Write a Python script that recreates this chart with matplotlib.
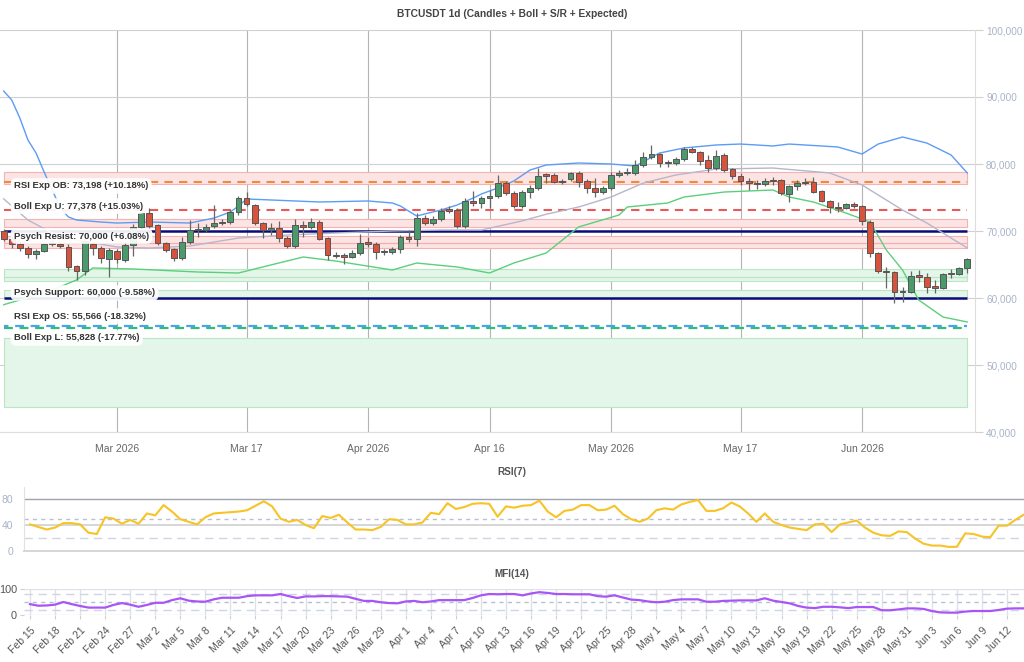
import matplotlib
matplotlib.use("Agg")
import matplotlib.pyplot as plt
import matplotlib.dates as mdates
from matplotlib.ticker import FuncFormatter
from matplotlib.transforms import blended_transform_factory
import numpy as np
import pandas as pd

plt.rcParams['font.family'] = ['Liberation Sans', 'DejaVu Sans']

# daily candles
dates = pd.date_range('2026-02-15', periods=120, freq='D')
opens = [69950, 68810, 68100, 67450, 66570, 67060, 68060, 68100, 67660, 64780,
         64070, 68000, 67460, 65820, 67060, 65670, 67900, 70600, 72700, 70900,
         68200, 67310, 65970, 68360, 70150, 70150, 70700, 71200, 71350, 72840,
         74930, 73880, 71190, 70150, 70450, 68950, 67760, 70900, 70600, 71340,
         68950, 66420, 66400, 66120, 66720, 68360, 68060, 66870, 66870, 67310,
         69100, 68800, 71940, 71190, 71790, 73280, 73130, 70750, 74480, 74180,
         74930, 75220, 77160, 75670, 73730, 75820, 76420, 78510, 78360, 77310,
         77760, 78660, 77460, 76420, 75820, 76420, 78360, 78660, 78660, 79850,
         81040, 81490, 80300, 80150, 80750, 82240, 81790, 80600, 79400, 81340,
         79250, 78210, 77460, 77160, 77010, 77610, 77610, 75520, 76720, 77310,
         77310, 75970, 74480, 73580, 73430, 74030, 73730, 71340, 66720, 64030,
         63880, 61040, 60900, 63430, 63130, 61790, 61490, 63580, 63580, 64480]
highs = [70300, 69200, 68500, 67700, 67300, 68250, 68700, 68300, 68000, 65000,
         69000, 68400, 67700, 67400, 67300, 68300, 71000, 73000, 73430, 71100,
         68400, 67500, 69100, 71640, 71200, 71000, 73880, 71800, 73100, 75200,
         75820, 74100, 71400, 71190, 71500, 69300, 71790, 71500, 71940, 71600,
         69100, 66870, 66700, 67160, 69550, 69100, 68300, 67300, 67600, 69400,
         70150, 72690, 72390, 72200, 73430, 73730, 73400, 74930, 75970, 75200,
         76120, 78360, 77400, 75900, 76120, 76870, 79400, 78660, 78660, 77800,
         78800, 78900, 77700, 77910, 76700, 78800, 79100, 79400, 80600, 81790,
         82830, 81640, 80600, 81040, 82540, 82540, 82000, 81340, 82090, 81600,
         79400, 78650, 77900, 77600, 77900, 78060, 77760, 76900, 77610, 77900,
         78060, 76100, 74700, 74330, 74180, 74330, 73880, 71640, 66870, 64630,
         64100, 61640, 64030, 64180, 63730, 62690, 63730, 64330, 64630, 65970]
lows = [68500, 67500, 66950, 65930, 65750, 66900, 67800, 67500, 64070, 62690,
        63500, 66420, 65220, 63090, 65220, 65400, 66300, 70300, 70400, 67900,
        66870, 65520, 65700, 68000, 69100, 69800, 70500, 70900, 71100, 72400,
        73800, 70900, 68950, 69400, 68360, 67460, 67460, 69100, 70300, 68600,
        65670, 65970, 65070, 65970, 66400, 67610, 65820, 66400, 66600, 66700,
        68360, 67760, 70900, 70900, 71500, 72690, 70500, 70500, 73800, 73430,
        73430, 75000, 75370, 73500, 73500, 74930, 76100, 77160, 77160, 77000,
        77500, 76570, 75670, 75070, 75520, 76100, 78000, 78300, 78360, 79600,
        80800, 79550, 79550, 79900, 80500, 81640, 79850, 78800, 79100, 78800,
        77760, 76870, 76120, 76270, 76700, 76870, 75370, 74330, 76120, 76870,
        75670, 74300, 72690, 72840, 73300, 73500, 70900, 66120, 63800, 61490,
        59250, 59400, 60750, 62390, 60750, 60750, 61300, 62990, 63430, 63730]
closes = [68810, 68100, 67450, 66570, 67060, 68060, 68200, 67750, 64580, 64070,
          68500, 67500, 65970, 67160, 65820, 67910, 70600, 72700, 70750, 68200,
          67160, 65970, 68360, 70150, 70300, 70600, 71200, 71350, 72840, 74930,
          74030, 71190, 70150, 70450, 68950, 67760, 70900, 70600, 71340, 68800,
          66420, 66200, 66120, 66720, 68210, 68060, 66870, 67010, 67310, 69100,
          68800, 71940, 71190, 71790, 72990, 72990, 70750, 74480, 74180, 74930,
          75220, 77160, 75670, 73730, 75820, 76420, 78210, 78210, 77310, 77460,
          78660, 77310, 76420, 75820, 76420, 78360, 78660, 78800, 79850, 81040,
          81490, 80150, 80150, 80750, 82240, 81790, 80450, 79400, 81190, 79100,
          78210, 77460, 77160, 77010, 77460, 77460, 75670, 76720, 77160, 77160,
          75820, 74480, 73580, 73430, 74030, 73700, 71490, 66720, 64030, 63880,
          60900, 60900, 63280, 63130, 61640, 61490, 63580, 63730, 64480, 65820]

# Bollinger bands (day index, value)
bb_up_idx = [0, 1, 2, 3, 4, 5, 6, 7, 8, 9, 12, 14, 18, 23, 26, 28, 29, 30, 33, 39,
             45, 48, 49, 50, 51, 52, 54, 56, 58, 59, 61, 63, 65, 67, 71, 75, 78, 81, 84, 88,
             91, 95, 97, 103, 106, 108, 111, 114, 117, 119]
bb_up = [90894, 89550, 86870, 83580, 81640, 78800, 76120, 73430, 72090, 71640,
         71340, 71190, 71340, 71190, 71940, 72840, 73730, 74780, 74630, 74330,
         74480, 74180, 73730, 72980, 72240, 72540, 73130, 73880, 74930, 75520,
         76420, 77460, 79100, 79850, 80150, 80000, 79700, 81640, 82390, 82840,
         82980, 82690, 82980, 82540, 81490, 82980, 84030, 83130, 81340, 78660]
bb_mid_idx = [0, 3, 6, 9, 14, 18, 23, 29, 35, 41, 48, 54, 59, 64, 67, 71, 75, 79, 83, 88,
              95, 102, 106, 111, 114, 119]
bb_mid = [74800, 71640, 69700, 68660, 67610, 67460, 67760, 68950, 69400, 69700,
          70000, 70150, 70150, 71500, 72500, 73580, 75070, 77160, 78360, 79250,
          79400, 78660, 76870, 73130, 71190, 67460]
bb_low_idx = [0, 2, 6, 9, 11, 16, 24, 29, 33, 37, 41, 48, 51, 56, 60, 63, 67, 71, 76, 77,
              82, 84, 89, 95, 97, 100, 104, 107, 109, 111, 113, 116, 119]
bb_low = [59000, 59700, 61190, 62690, 64480, 64330, 63880, 63730, 64930, 66120,
          65520, 64180, 65220, 64630, 63730, 65220, 66720, 70600, 72390, 73580,
          74180, 75070, 75820, 76120, 75070, 74330, 72690, 71340, 67160, 64180,
          59700, 57160, 56420]

# support / resistance zones
red_zones = [(77000, 78800), (70550, 71750), (67420, 69250)]
red_zone_lines = [68160]
green_zones = [(62580, 64280), (60000, 61150), (43780, 54030)]
green_zone_lines = [63180]

psych_levels = [70000, 60000]
boll_exp_u = 77378
rsi_exp_ob = 73198
boll_exp_l = 55828
rsi_exp_os = 55566

labels = ['RSI Exp OB: 73,198 (+10.18%)', 'Boll Exp U: 77,378 (+15.03%)',
          'Psych Resist: 70,000 (+6.08%)', 'Psych Support: 60,000 (-9.58%)',
          'RSI Exp OS: 55,566 (-18.32%)', 'Boll Exp L: 55,828 (-17.77%)']
label_y = [76720, 73730, 69250, 60750, 57310, 54030]

rsi = [41, 37, 33, 36, 43, 43, 41, 28, 26, 52,
       50, 42, 48, 42, 58, 55, 71, 61, 49, 45,
       41, 52, 58, 59, 60, 61, 63, 70, 77, 69,
       50, 45, 48, 40, 35, 54, 51, 56, 44, 33,
       33, 32, 37, 49, 48, 41, 41, 44, 59, 57,
       74, 65, 68, 73, 74, 73, 53, 69, 67, 70,
       71, 78, 61, 52, 62, 64, 71, 71, 63, 64,
       70, 57, 49, 45, 50, 63, 66, 64, 72, 76,
       79, 62, 62, 66, 75, 69, 58, 45, 58, 45,
       40, 36, 34, 32, 41, 42, 29, 41, 44, 47,
       36, 28, 24, 23, 30, 29, 19, 11, 8, 8,
       6, 6, 27, 26, 22, 21, 39, 39, 48, 56]
mfi = [42, 36, 37, 40, 50, 42, 35, 29, 29, 29,
       39, 46, 40, 32, 39, 47, 47, 57, 64, 55,
       52, 51, 60, 66, 66, 66, 72, 75, 75, 75,
       80, 72, 65, 71, 71, 72, 72, 71, 70, 62,
       54, 54, 49, 46, 45, 52, 54, 49, 52, 57,
       57, 57, 57, 65, 75, 80, 79, 80, 80, 75,
       82, 87, 84, 80, 80, 79, 79, 79, 72, 70,
       75, 67, 59, 57, 52, 49, 51, 57, 60, 60,
       60, 51, 51, 54, 55, 56, 56, 56, 64, 55,
       50, 45, 35, 29, 27, 32, 32, 30, 27, 31,
       31, 31, 19, 19, 22, 26, 26, 24, 16, 11,
       10, 10, 14, 16, 16, 16, 20, 25, 26, 26]

main_ticks = ['2026-03-01', '2026-03-17', '2026-04-01', '2026-04-16',
              '2026-05-01', '2026-05-17', '2026-06-01']
main_tick_labels = ['Mar 2026', 'Mar 17', 'Apr 2026', 'Apr 16',
                    'May 2026', 'May 17', 'Jun 2026']

W, H = 1024, 662


def box(l, t, r, b):
    return [l / W, 1 - b / H, (r - l) / W, (b - t) / H]


fig = plt.figure(figsize=(10.24, 6.62), dpi=100)
xd = mdates.date2num(dates)
o = np.array(opens)
c = np.array(closes)

# ---- main price panel
ax = fig.add_axes(box(0, 30, 975, 432))
ax.set_xlim(xd[0] - 0.45, xd[0] + 119.95)
ax.set_ylim(40000, 100000)
span = [xd[0], xd[-1]]

for lo, hi in red_zones:
    ax.fill_between(span, lo, hi, facecolor='#fde4e4', edgecolor='#f3b3b3', lw=0.8, zorder=1)
for v in red_zone_lines:
    ax.hlines(v, *span, colors='#f0b0b0', lw=0.9, zorder=1)
for lo, hi in green_zones:
    ax.fill_between(span, lo, hi, facecolor='#e4f6e9', edgecolor='#b9e6c5', lw=0.8, zorder=1)
for v in green_zone_lines:
    ax.hlines(v, *span, colors='#b9e6c5', lw=0.9, zorder=1)

ax.plot(xd[bb_up_idx], bb_up, color='#5c9cf5', lw=1, zorder=3)
ax.plot(xd[bb_mid_idx], bb_mid, color='#b6b6cc', lw=1, zorder=3)
ax.plot(xd[bb_low_idx], bb_low, color='#5ccf7c', lw=1, zorder=3)

ax.hlines(boll_exp_u, *span, colors='#f08a3c', linestyles=(0, (4, 3)), lw=1.5, zorder=2)
ax.hlines(rsi_exp_ob, *span, colors='#e85a5a', linestyles=(0, (4, 3)), lw=1.5, zorder=2)
ax.hlines(psych_levels, *span, colors='#0a0a78', lw=1.8, zorder=2)
ax.hlines(rsi_exp_os, *span, colors='#2fbf71', linestyles=(0, (4, 3)), lw=1.6, zorder=2)
ax.hlines(boll_exp_l, *span, colors='#4aa3f0', linestyles=(2, (4, 3)), lw=1.6, zorder=2)

colors = np.where(c >= o, '#4b9a6b', '#d9533c')
ax.vlines(xd, lows, highs, color='#666666', lw=0.9, zorder=4)
ax.bar(xd, np.abs(c - o), bottom=np.minimum(o, c), width=0.72, color=colors,
       edgecolor='#555555', linewidth=0.7, zorder=5)

tr = blended_transform_factory(ax.transAxes, ax.transData)
for txt, yv in zip(labels, label_y):
    ax.text(14 / 975, yv, txt, transform=tr, fontsize=6.8, fontweight='bold',
            color='#333333', va='center', ha='left', zorder=10,
            bbox=dict(boxstyle='round,pad=0.35,rounding_size=0.6', fc='white',
                      ec='none', alpha=0.92))

ax.yaxis.tick_right()
ax.set_yticks(range(40000, 100001, 10000))
ax.yaxis.set_major_formatter(FuncFormatter(lambda v, p: f'{v:,.0f}'))
ax.tick_params(axis='y', length=6, color='#d0d0d0', labelcolor='#a9b4c8',
               labelsize=7.2, pad=2)
ax.set_xticks(mdates.date2num(pd.to_datetime(main_ticks)))
ax.set_xticklabels(main_tick_labels)
ax.tick_params(axis='x', length=0, pad=9, labelcolor='#666666', labelsize=7.5)
ax.grid(axis='y', color='#d0d0d0', lw=0.8)
ax.grid(axis='x', color='#b4b4b4', lw=0.8)
ax.set_axisbelow(True)
for s in ['top', 'left']:
    ax.spines[s].set_visible(False)
ax.spines['right'].set_color('#dddddd')
ax.spines['bottom'].set_color('#dddddd')

fig.text(0.5, 1 - 14 / H, 'BTCUSDT 1d (Candles + Boll + S/R + Expected)',
         ha='center', va='center', fontsize=7.4, fontweight='bold', color='#444444')

# ---- RSI panel
rax = fig.add_axes(box(24, 486.5, 1030, 550.7))
rax.set_xlim(xd[0] - 0.72, xd[0] + 119.76)
rax.set_ylim(0, 100)
rax.axhline(40, color='#d6d6d6', lw=1.4, zorder=1)
rax.axhline(80, color='#9ea3ae', lw=1, zorder=1)
rax.axhline(50, color='#b8c0d6', lw=1, ls=(0, (3, 3)), zorder=1)
rax.axhline(20, color='#cfd5e3', lw=1, ls=(0, (6, 4)), zorder=1)
rax.plot(xd, rsi, color='#f7c325', lw=1.5, zorder=3)
rax.set_yticks([0, 40, 80])
rax.set_xticks([])
rax.tick_params(axis='y', length=0, pad=8, labelcolor='#a9b4c8', labelsize=7.5)
for s in ['top', 'right']:
    rax.spines[s].set_visible(False)
rax.spines['left'].set_color('#e2e2e2')
rax.spines['bottom'].set_color('#d6d6d6')
rax.spines['bottom'].set_linewidth(1.4)
fig.text(0.5, 1 - 472 / H, 'RSI(7)', ha='center', va='center', fontsize=7.2,
         fontweight='bold', color='#555555')

# ---- MFI panel
m_ax = fig.add_axes(box(24, 588.7, 1030, 615.3))
m_ax.set_xlim(xd[0] - 0.72, xd[0] + 119.76)
m_ax.set_ylim(0, 100)
m_ax.axhline(80, color='#cfd5e3', lw=1, ls=(0, (6, 4)), zorder=1)
m_ax.axhline(50, color='#b8c0d6', lw=1, ls=(0, (3, 3)), zorder=1)
m_ax.axhline(20, color='#cfd5e3', lw=1, ls=(0, (6, 4)), zorder=1)
m_ax.plot(xd, mfi, color='#a855f7', lw=1.6, zorder=3)
m_ax.set_yticks([0, 100])
tick_days = dates[::3]
m_ax.set_xticks(mdates.date2num(tick_days))
m_ax.set_xticklabels([f'{d:%b} {d.day}' for d in tick_days], rotation=45,
                     ha='right', rotation_mode='anchor')
m_ax.tick_params(axis='x', length=3, color='#d0d0d0', pad=4, labelcolor='#555555',
                 labelsize=7.5)
m_ax.tick_params(axis='y', length=3, color='#d0d0d0', pad=2, labelcolor='#555555',
                 labelsize=7.8)
m_ax.grid(True, color='#dde1e8', lw=1)
m_ax.set_axisbelow(True)
for s in m_ax.spines.values():
    s.set_visible(False)
fig.text(0.5, 1 - 574 / H, 'MFI(14)', ha='center', va='center', fontsize=7.2,
         fontweight='bold', color='#555555')

fig.savefig('out.png', dpi=100)
